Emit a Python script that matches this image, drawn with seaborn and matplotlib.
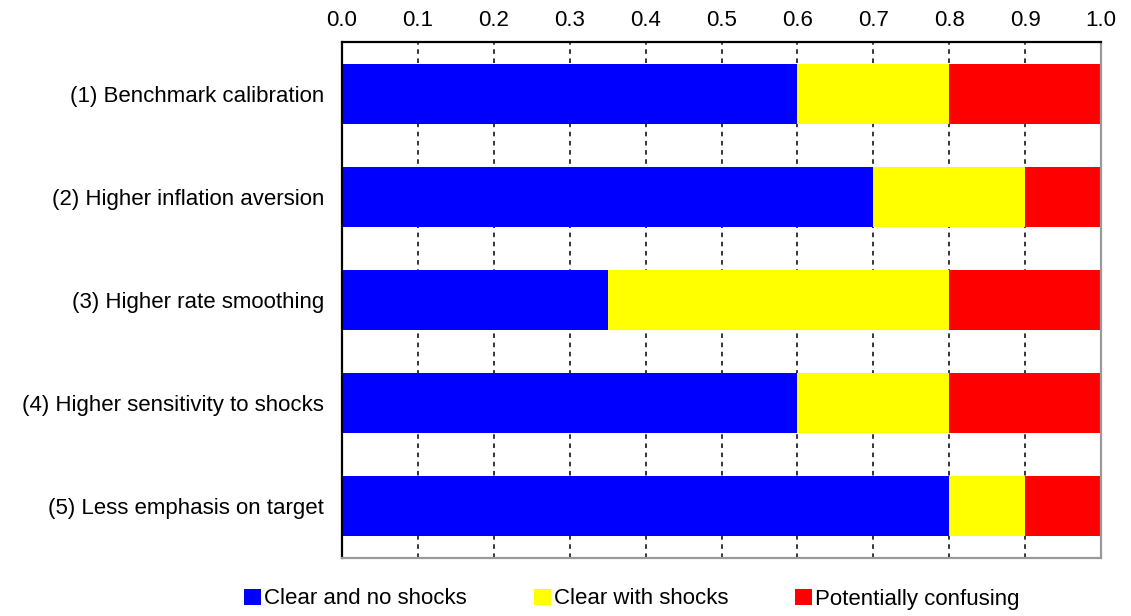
import matplotlib
matplotlib.use("Agg")
import matplotlib.pyplot as plt
import seaborn as sns
import numpy as np
import pandas as pd
from matplotlib.patches import Patch

sns.set_style("white")
plt.rcParams["font.family"] = ["Liberation Sans", "DejaVu Sans"]
plt.rcParams["text.color"] = "black"
plt.rcParams["xtick.color"] = "black"
plt.rcParams["ytick.color"] = "black"

scenarios = [
    "(1) Benchmark calibration",
    "(2) Higher inflation aversion",
    "(3) Higher rate smoothing",
    "(4) Higher sensitivity to shocks",
    "(5) Less emphasis on target",
]
clear_no_shocks = [0.6, 0.7, 0.35, 0.6, 0.8]
clear_with_shocks = [0.2, 0.2, 0.45, 0.2, 0.1]
potentially_confusing = [0.2, 0.1, 0.2, 0.2, 0.1]

series_names = ["Clear and no shocks", "Clear with shocks", "Potentially confusing"]
colors = ["#0000FF", "#FFFF00", "#FF0000"]

df = pd.DataFrame({
    "scenario": scenarios,
    series_names[0]: clear_no_shocks,
    series_names[1]: clear_with_shocks,
    series_names[2]: potentially_confusing,
})
cum = df[series_names].cumsum(axis=1)

fig = plt.figure(figsize=(11.31, 6.16), dpi=100)
ax = fig.add_axes([342 / 1131, 1 - 558 / 616, (1101 - 342) / 1131, (558 - 42) / 616])

# stacked bars: draw cumulative totals from the outermost segment inward
for name, col in reversed(list(zip(series_names, colors))):
    sns.barplot(x=cum[name], y=df["scenario"], color=col, orient="h",
                width=0.58, ax=ax, saturation=1, edgecolor="none", zorder=2)

FS = 16

ax.set_xlim(0, 1.0)
ax.set_ylim(4.5, -0.5)
ax.set_xlabel("")
ax.set_ylabel("")

ax.xaxis.tick_top()
ax.set_xticks(np.arange(0, 1.01, 0.1))
ax.set_xticklabels([f"{v:.1f}" for v in np.arange(0, 1.01, 0.1)])
ax.tick_params(axis="x", which="major", length=0, labelsize=FS, pad=8)
ax.tick_params(axis="y", which="major", length=0, labelsize=FS, pad=13)
ax.set_yticks(range(len(scenarios)))
ax.set_yticklabels(scenarios)
ax.set_yticks(np.arange(0.5, 4.0, 1.0), minor=True)
ax.tick_params(axis="y", which="minor", direction="in", length=4, width=1, color="black")

ax.grid(axis="x", color="black", linestyle=(0, (3, 3)), linewidth=1.1, zorder=1)
ax.grid(axis="y", visible=False)
ax.set_axisbelow(True)

for s in ["top", "left"]:
    ax.spines[s].set_color("black")
    ax.spines[s].set_linewidth(1.6)
for s in ["right", "bottom"]:
    ax.spines[s].set_color("#999999")
    ax.spines[s].set_linewidth(1.6)
    ax.spines[s].set_visible(True)

handles = [Patch(facecolor=c, edgecolor="none") for c in colors]
fig.legend(handles, series_names, loc="center", bbox_to_anchor=(632 / 1131, 1 - 599 / 616),
           ncol=3, frameon=False, fontsize=FS, handlelength=0.75, handleheight=0.75,
           handletextpad=0.15, columnspacing=3.0)

fig.savefig("out.png", dpi=100)
